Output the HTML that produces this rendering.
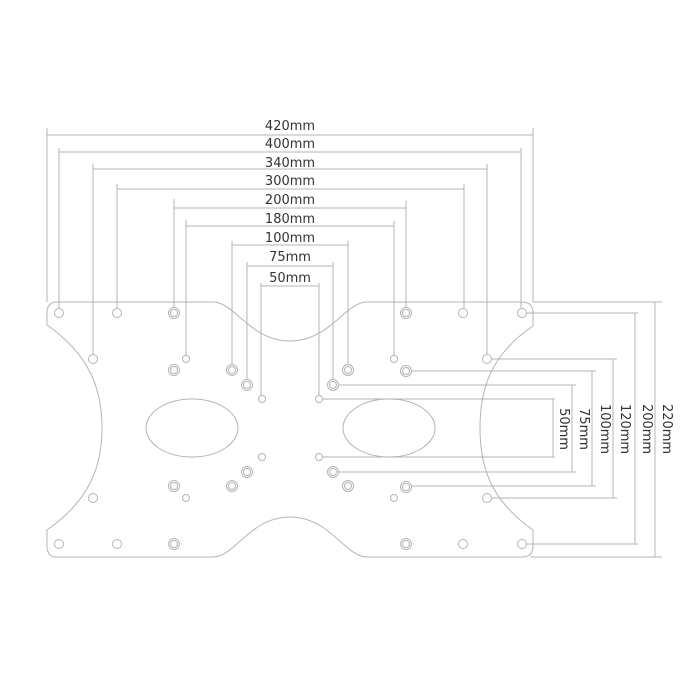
<!DOCTYPE html>
<html><head><meta charset="utf-8"><style>
html,body{margin:0;padding:0;background:#fff;}
svg{display:block;}
text{font-family:"DejaVu Sans","Liberation Sans",sans-serif;font-size:13px;fill:#333;}
</style></head><body>
<svg width="700" height="700" viewBox="0 0 700 700" xmlns="http://www.w3.org/2000/svg">
<g fill="none" stroke="#b4b4b4" stroke-width="1">
<path d="M57,302 L213,302 C235,302 250,341 290,341 C330,341 345,302 367,302 L522,302 Q533,302 533,313 L533,326 C490,355 480,390 480,428 C480,466 490,500 533,530 L533,546 Q533,557 522,557 L367,557 C345,557 330,517 290,517 C250,517 235,557 213,557 L57,557 Q47,557 47,546 L47,530 C90,500 102,466 102,428 C102,390 90,355 47,325 L47,313 Q47,302 57,302 Z"/>
<ellipse cx="192" cy="428" rx="46" ry="29"/>
<ellipse cx="389" cy="428" rx="46" ry="29"/>
<path d="M47,135H533 M47,128V302 M533,128V302"/>
<path d="M59,152H521 M59,148V308 M521,148V308"/>
<path d="M93,169H487 M93,164V354 M487,164V354"/>
<path d="M117,189H464 M117,184V308 M464,184V308"/>
<path d="M174,208H406 M174,199V307 M406,201V307"/>
<path d="M186,226H394 M186,220V355 M394,221V355"/>
<path d="M232,245H348 M232,241V364 M348,241V364"/>
<path d="M247,266H333 M247,262V379 M333,262V379"/>
<path d="M261,286H319 M261,283V395 M319,283V395"/>
<path d="M533,302H662 M530,557H662 M655,302V557"/>
<path d="M527,313H638 M527,544H638 M635,313V544"/>
<path d="M492,359H617 M492,498H617 M613,359V498"/>
<path d="M412,371H596 M412,486H596 M592,371V486"/>
<path d="M339,385H576 M339,472H576 M572,385V472"/>
<path d="M323,399H555 M323,457H555 M553,399V457"/>
<g>
<circle cx="59" cy="313" r="4.5"/><circle cx="117" cy="313" r="4.5"/>
<circle cx="463" cy="313" r="4.5"/><circle cx="522" cy="313" r="4.5"/>
<circle cx="93" cy="359" r="4.5"/><circle cx="487" cy="359" r="4.5"/>
<circle cx="93" cy="498" r="4.5"/><circle cx="487" cy="498" r="4.5"/>
<circle cx="59" cy="544" r="4.5"/><circle cx="117" cy="544" r="4.5"/>
<circle cx="463" cy="544" r="4.5"/><circle cx="522" cy="544" r="4.5"/>
<circle cx="186" cy="359" r="3.5"/><circle cx="394" cy="359" r="3.5"/>
<circle cx="186" cy="498" r="3.5"/><circle cx="394" cy="498" r="3.5"/>
<circle cx="262" cy="399" r="3.5"/><circle cx="319" cy="399" r="3.5"/>
<circle cx="262" cy="457" r="3.5"/><circle cx="319" cy="457" r="3.5"/>
</g>
<g>
<circle cx="174" cy="313" r="5.5"/><circle cx="174" cy="313" r="3.5"/>
<circle cx="406" cy="313" r="5.5"/><circle cx="406" cy="313" r="3.5"/>
<circle cx="174" cy="544" r="5.5"/><circle cx="174" cy="544" r="3.5"/>
<circle cx="406" cy="544" r="5.5"/><circle cx="406" cy="544" r="3.5"/>
<circle cx="174" cy="370" r="5.5"/><circle cx="174" cy="370" r="3.5"/>
<circle cx="232" cy="370" r="5.5"/><circle cx="232" cy="370" r="3.5"/>
<circle cx="348" cy="370" r="5.5"/><circle cx="348" cy="370" r="3.5"/>
<circle cx="406" cy="371" r="5.5"/><circle cx="406" cy="371" r="3.5"/>
<circle cx="174" cy="486" r="5.5"/><circle cx="174" cy="486" r="3.5"/>
<circle cx="232" cy="486" r="5.5"/><circle cx="232" cy="486" r="3.5"/>
<circle cx="348" cy="486" r="5.5"/><circle cx="348" cy="486" r="3.5"/>
<circle cx="406" cy="487" r="5.5"/><circle cx="406" cy="487" r="3.5"/>
<circle cx="247" cy="385" r="5.5"/><circle cx="247" cy="385" r="3.5"/>
<circle cx="333" cy="385" r="5.5"/><circle cx="333" cy="385" r="3.5"/>
<circle cx="247" cy="472" r="5.5"/><circle cx="247" cy="472" r="3.5"/>
<circle cx="333" cy="472" r="5.5"/><circle cx="333" cy="472" r="3.5"/>
</g>
</g>
<g text-anchor="middle">
<text x="290" y="130">420mm</text>
<text x="290" y="148">400mm</text>
<text x="290" y="167">340mm</text>
<text x="290" y="185">300mm</text>
<text x="290" y="204">200mm</text>
<text x="290" y="223">180mm</text>
<text x="290" y="242">100mm</text>
<text x="290" y="261">75mm</text>
<text x="290" y="282">50mm</text>
<text transform="translate(560,429) rotate(90)">50mm</text>
<text transform="translate(580,429) rotate(90)">75mm</text>
<text transform="translate(601,429) rotate(90)">100mm</text>
<text transform="translate(621,429) rotate(90)">120mm</text>
<text transform="translate(643,429) rotate(90)">200mm</text>
<text transform="translate(663,429) rotate(90)">220mm</text>
</g>
</svg>
</body></html>
